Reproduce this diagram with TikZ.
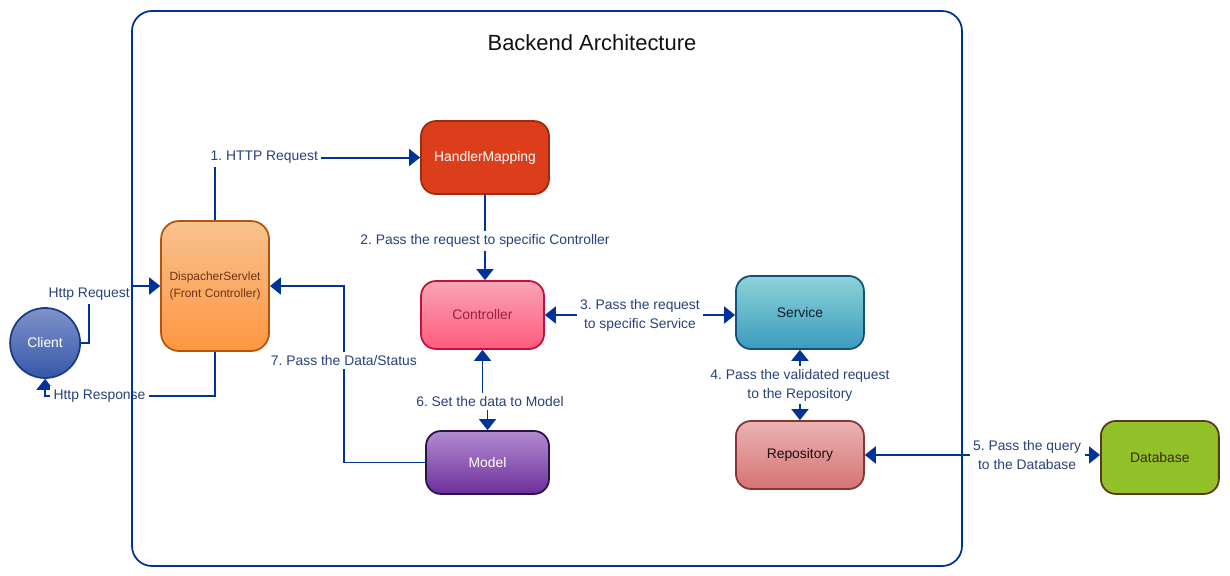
\documentclass[tikz,border=0pt]{standalone}
\usepackage{fontspec}
\setmainfont{Liberation Sans}
\frenchspacing
\usetikzlibrary{arrows.meta,shapes,positioning}
\definecolor{edgeblue}{RGB}{0,51,153}
\definecolor{lbltext}{RGB}{40,66,125}
\tikzset{
    block/.style = {draw, rectangle, rounded corners=0.3cm, line width=1pt,
        minimum height=1.46cm,
        minimum width=2.56cm, align=center, font=\fontsize{7.9}{10.8}\selectfont},
    handler/.style = {block, draw={rgb,255:red,158;green,42;blue,16}, fill={rgb,255:red,220;green,62;blue,28}, text=white},
    servlet/.style = {block, rounded corners=0.36cm, minimum width=2.16cm, minimum height=2.6cm,
        draw={rgb,255:red,180;green,85;blue,15}, top color={rgb,255:red,248;green,194;blue,142},
        bottom color={rgb,255:red,254;green,150;blue,65}, text={rgb,255:red,107;green,52;blue,22},
        font=\fontsize{6.8}{9.6}\selectfont},
    ctrl/.style = {block, minimum width=2.46cm, minimum height=1.36cm,
        draw={rgb,255:red,196;green,16;blue,60}, top color={rgb,255:red,247;green,165;blue,181},
        bottom color={rgb,255:red,255;green,90;blue,124}, text={rgb,255:red,156;green,31;blue,69}},
    service/.style = {block, draw={rgb,255:red,16;green,80;blue,127}, top color={rgb,255:red,142;green,211;blue,216},
        bottom color={rgb,255:red,58;green,155;blue,189}, text={rgb,255:red,16;green,32;blue,42}},
    repo/.style = {block, minimum height=1.36cm, draw={rgb,255:red,138;green,51;blue,51},
        top color={rgb,255:red,234;green,179;blue,179}, bottom color={rgb,255:red,214;green,115;blue,115},
        text={rgb,255:red,31;green,16;blue,16}},
    database/.style = {block, minimum width=2.36cm, draw={rgb,255:red,90;green,58;blue,20},
        fill={rgb,255:red,147;green,193;blue,42}, text={rgb,255:red,58;green,42;blue,16}},
    model/.style = {block, minimum width=2.46cm, minimum height=1.26cm, draw={rgb,255:red,42;green,18;blue,69},
        top color={rgb,255:red,179;green,139;blue,209}, bottom color={rgb,255:red,108;green,47;blue,155}, text=white},
    client/.style = {draw={rgb,255:red,24;green,60;blue,133}, circle, line width=1pt, minimum size=1.4cm,
        top color={rgb,255:red,127;green,147;blue,202}, bottom color={rgb,255:red,54;green,87;blue,168},
        text=white, font=\fontsize{7.9}{10.8}\selectfont},
    wire/.style = {draw=edgeblue, line width=1.1pt},
    lbl/.style = {fill=white, text=lbltext, align=center, inner sep=2pt, font=\fontsize{7.9}{10.8}\selectfont},
    heading/.style = {font=\fontsize{12.5}{15}\selectfont, text={rgb,255:red,17;green,17;blue,17}},
    archframe/.style = {draw=edgeblue, line width=1pt, rounded corners=0.4cm}
}

\begin{document}
\begin{tikzpicture}[x=0.02cm, y=-0.02cm, node distance=2cm, >={Triangle[width=0.34cm,length=0.22cm]}]
        \useasboundingbox (0,0) rectangle (1230,575);
        \node [heading] (title) at (592,43) {Backend Architecture};
        \node [ctrl] (ctrl) at (482.5,315) {Controller};
        \node [handler, above of=ctrl, node distance=3.15cm, xshift=0.05cm] (hm) {HandlerMapping};
        \draw [wire,->] (hm.south) -- node [lbl,pos=0.54] {2. Pass the request to specific Controller} (hm.south |- ctrl.north);
        \node [servlet, left of=ctrl, node distance=5.35cm, yshift=0.58cm] (ds) {DispacherServlet\\(Front Controller)};
        \draw [wire,->] (ds.north) |- node [lbl,pos=0.62] {1. HTTP Request} (hm.west);
        \node [client, left of=ds, node distance=3.4cm, yshift=-1.14cm] (client) {Client};
        \draw [wire,->] (client.east) -| node [lbl,pos=0.93] {Http Request} ([xshift=-1.42cm]ds.west) -- (ds.west);
        \draw [wire,->] (ds.south) -- ++(0,44) -| node [lbl,pos=0.34] {Http Response} (client.south);
        \node [service, right of=ctrl, node distance=6.35cm, yshift=0.05cm] (svc) {Service};
        \draw [wire,<->] (ctrl.east) -- node [lbl] {3. Pass the request\\to specific Service} (ctrl.east -| svc.west);
        \node [repo, below of=svc, node distance=2.85cm] (repo) {Repository};
        \draw [wire,<->] (svc.south) -- node [lbl] {4. Pass the validated request\\to the Repository} (repo.north);
        \node [database, right of=repo, node distance=7.2cm, yshift=-0.05cm] (db) {Database};
        \draw [wire,<->] (repo.east) -- node [lbl,pos=0.69] {5. Pass the query\\to the Database} (repo.east -| db.west);
        \node [model, below of=ctrl, node distance=2.95cm, xshift=0.1cm] (mdl) {Model};
        \draw [wire,<->] (ctrl.south) -- ++(0,52) node [lbl,xshift=0.15cm] {6. Set the data to Model} -| (mdl.north);
        \draw [wire,->] (mdl.west) -| node [lbl,pos=0.79] {7. Pass the Data/Status} ([xshift=1.48cm]ds.east) -- (ds.east);
        \draw [archframe] (132,11) rectangle (962,566);
\end{tikzpicture}
\end{document}
